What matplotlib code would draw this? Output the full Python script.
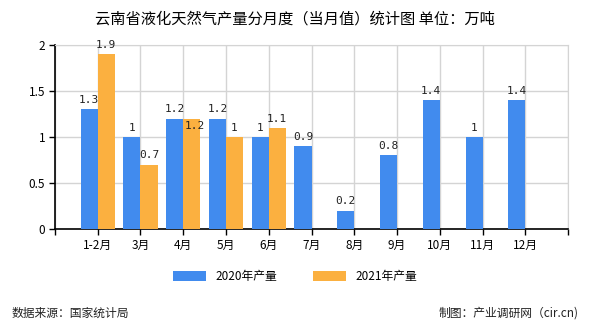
import numpy as np
import matplotlib
matplotlib.use('Agg')
import matplotlib.pyplot as plt

plt.rcParams['font.family'] = ['Noto Sans CJK SC', 'DejaVu Sans']

# Data
months = ['1-2月', '3月', '4月', '5月', '6月', '7月', '8月', '9月', '10月', '11月', '12月']
prod_2020 = [1.3, 1, 1.2, 1.2, 1, 0.9, 0.2, 0.8, 1.4, 1, 1.4]
prod_2021 = [1.9, 0.7, 1.2, 1, 1.1]
series_names = ['2020年产量', '2021年产量']

blue = '#418BEE'
orange = '#FBB040'
width = 0.4

fig = plt.figure(figsize=(5.9, 3.3), dpi=100)
ax = fig.add_axes([0.093, 0.306, 0.87, 0.558])

x = np.arange(len(months))
x21 = np.arange(len(prod_2021))
b1 = ax.bar(x - width / 2, prod_2020, width, color=blue, label=series_names[0], zorder=3)
b2 = ax.bar(x21 + width / 2, prod_2021, width, color=orange, label=series_names[1], zorder=3)

# value labels (2021 label goes just under the bar top when it ties with 2020)
for i, (bar, v) in enumerate(zip(b1, prod_2020)):
    ax.annotate(f'{v:g}', (bar.get_x() + bar.get_width() / 2, v),
                textcoords='offset points', xytext=(0, 3), ha='center', va='bottom',
                fontsize=8, family='DejaVu Sans Mono', color='#222222', zorder=4)
for i, (bar, v) in enumerate(zip(b2, prod_2021)):
    tie = v == prod_2020[i]
    ax.annotate(f'{v:g}', (bar.get_x() + bar.get_width() / 2, v),
                textcoords='offset points', xytext=(2, -2) if tie else (0, 3),
                ha='center', va='top' if tie else 'bottom',
                fontsize=8, family='DejaVu Sans Mono', color='#222222', zorder=4)

ax.set_xlim(-1, len(months))
ax.set_ylim(0, 2)
ax.set_yticks([0, 0.5, 1, 1.5, 2])
ax.set_yticklabels(['0', '0.5', '1', '1.5', '2'], fontsize=8.5)
ax.set_xticks(np.arange(-1, len(months) + 1))
ax.set_xticklabels([''] + months + [''], fontsize=8.5)
ax.tick_params(axis='both', length=4, width=1, color='black', pad=3)

ax.grid(True, color='#d4d4d4', linewidth=1, zorder=0)
for s in ['top', 'right']:
    ax.spines[s].set_color('#d4d4d4')
for s in ['left', 'bottom']:
    ax.spines[s].set_color('black')
    ax.spines[s].set_linewidth(1.2)

fig.text(0.5, 0.942, '云南省液化天然气产量分月度（当月值）统计图 单位：万吨',
         ha='center', va='center', fontsize=11)
fig.legend(handles=[b1, b2], loc='center', bbox_to_anchor=(0.5, 0.163), ncol=2,
           frameon=False, fontsize=8.5, handlelength=2.8, handleheight=0.9,
           columnspacing=3)

fig.text(0.02, 0.05, '数据来源：国家统计局', ha='left', va='center', fontsize=8.5, color='#222222')
fig.text(0.98, 0.05, '制图：产业调研网（cir.cn)', ha='right', va='center', fontsize=8.5, color='#222222')

fig.savefig('out.png', dpi=100)
